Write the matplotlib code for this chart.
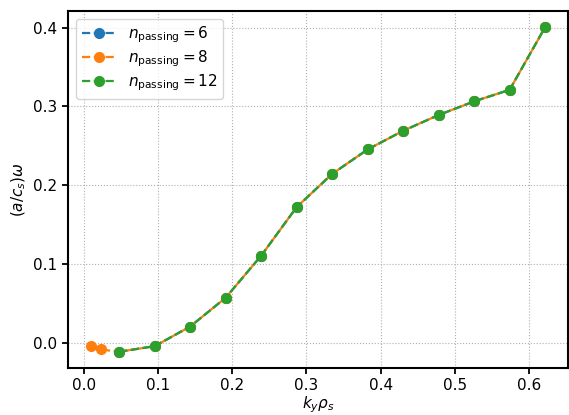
import matplotlib
matplotlib.use("Agg")
import matplotlib.pyplot as plt

# k_y rho_s grids and frequencies
ky_6 = [0.0478, 0.0956, 0.1434, 0.1912, 0.239, 0.2868, 0.3346, 0.3824, 0.4302, 0.478, 0.5258, 0.5736, 0.6214]
om_6 = [-0.0114, -0.0043, 0.0206, 0.0572, 0.1105, 0.1722, 0.2143, 0.2453, 0.2690, 0.2890, 0.3063, 0.3210, 0.4004]

ky_8 = [0.0094, 0.0232] + ky_6
om_8 = [-0.0043, -0.0085] + om_6

ky_12 = ky_6
om_12 = om_6

labels = [r"$n_{\rm passing} = 6$", r"$n_{\rm passing} = 8$", r"$n_{\rm passing} = 12$"]

plt.rcParams["font.size"] = 11
plt.rcParams["lines.markersize"] = 7
plt.rcParams["lines.linewidth"] = 1.6

fig, ax = plt.subplots(figsize=(5.69, 4.15), dpi=100)
fig.subplots_adjust(left=0.1195, right=0.998, top=0.9735, bottom=0.1133)

ax.plot(ky_6, om_6, "o--", label=labels[0])
ax.plot(ky_8, om_8, "o--", label=labels[1])
ax.plot(ky_12, om_12, "o--", label=labels[2])

ax.set_xlabel(r"$k_y\rho_s$", labelpad=0.5)
ax.set_ylabel(r"$(a/c_s)\omega$")
ax.grid(True, linestyle=":", color="#b0b0b0", linewidth=0.8)
for s in ax.spines.values():
    s.set_linewidth(1.5)
ax.tick_params(width=1.3, length=4)
ax.legend(loc="upper left", labelspacing=0.2, borderaxespad=0.5, handlelength=2.2)

fig.savefig("out.png", dpi=100)
